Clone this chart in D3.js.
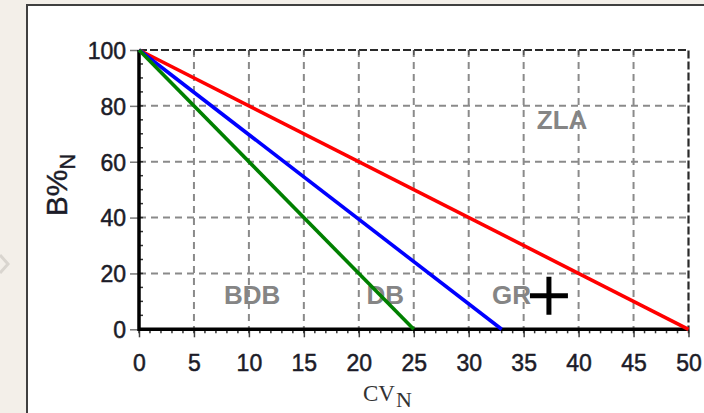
<!DOCTYPE html>
<html>
<head>
<meta charset="utf-8">
<script src="https://cdn.jsdelivr.net/npm/d3@7"></script>
<style>
  body { margin: 0; background: #f3efe9; }
  svg { display: block; }
</style>
</head>
<body>
<div id="chart"></div>
<script>
// boundary lines: each runs from B%N = 100 at CV = 0 down to B%N = 0
var lineNames = ["GR/ZLA", "DB/GR", "BDB/DB"];
var lineColors = ["#ff0000", "#0000ff", "#008000"];
var lineEnds = [50, 33, 25];

// zone labels
var zoneNames = ["ZLA", "BDB", "DB", "GR"];
var zoneX = [38.5, 10.3, 22.4, 33.9];
var zoneY = [75, 12.3, 12.3, 12.3];

// the sample point (+)
var sample = [37.3, 12];

var xTicks = [0, 5, 10, 15, 20, 25, 30, 35, 40, 45, 50];
var yTicks = [0, 20, 40, 60, 80, 100];

var W = 704, H = 413;

var svg = d3.select("#chart").append("svg")
  .attr("width", W)
  .attr("height", H);

// white panel
svg.append("rect")
  .attr("x", 27).attr("y", 5)
  .attr("width", W).attr("height", H)
  .attr("fill", "#fff")
  .attr("stroke", "#404040")
  .attr("stroke-width", 2);

// small faint arrow on the left
svg.append("polyline")
  .attr("points", "0,255 8,264 0,273")
  .attr("fill", "none")
  .attr("stroke", "#d9d5cf")
  .attr("stroke-width", 3);

var x = d3.scaleLinear().domain([0, 50]).range([139, 688.5]);
var y = d3.scaleLinear().domain([0, 100]).range([329.3, 50]);

// grid
var grid = svg.append("g")
  .attr("stroke", "#8a8a8a")
  .attr("stroke-width", 2)
  .attr("stroke-dasharray", "7,5");

grid.selectAll(".vg")
  .data(xTicks.filter(function(d){ return d > 0 && d < 50; }))
  .enter().append("line")
    .attr("x1", function(d){ return x(d); })
    .attr("x2", function(d){ return x(d); })
    .attr("y1", y(100)).attr("y2", y(0));

grid.selectAll(".hg")
  .data(yTicks.filter(function(d){ return d > 0 && d < 100; }))
  .enter().append("line")
    .attr("x1", x(0)).attr("x2", x(50))
    .attr("y1", function(d){ return y(d); })
    .attr("y2", function(d){ return y(d); });

// top and right frame (dashed, darker)
svg.append("path")
  .attr("d", "M" + x(0) + "," + y(100) + "H" + x(50) + "V" + y(0))
  .attr("fill", "none")
  .attr("stroke", "#2a2a2a")
  .attr("stroke-width", 2.2)
  .attr("stroke-dasharray", "8,3");

// little ticks hanging from top frame
svg.append("g").selectAll("line")
  .data(xTicks.filter(function(d){ return d > 0 && d < 50; }))
  .enter().append("line")
    .attr("x1", function(d){ return x(d); })
    .attr("x2", function(d){ return x(d); })
    .attr("y1", y(100)).attr("y2", y(100) + 5)
    .attr("stroke", "#555")
    .attr("stroke-width", 1.5);

// axes
var font = "'Liberation Sans', Arial, sans-serif";
var ink = "#1c1c28";

var yAxis = d3.axisLeft(y).tickValues(yTicks).tickSize(9).tickPadding(4);
var yg = svg.append("g")
  .attr("transform", "translate(" + x(0) + ",0)")
  .call(yAxis);
yg.select(".domain").remove();
yg.selectAll(".tick line").attr("stroke", "#777").attr("stroke-width", 1.5);
yg.selectAll("text")
  .attr("font-family", font)
  .attr("font-size", 23)
  .attr("fill", ink)
  .attr("stroke", ink)
  .attr("stroke-width", 0.5)
  .attr("dy", "0.36em");

// minor y ticks inside the axis
svg.append("g").selectAll("line")
  .data(d3.range(0, 101, 5))
  .enter().append("line")
    .attr("x1", x(0)).attr("x2", x(0) + 4)
    .attr("y1", function(d){ return y(d); })
    .attr("y2", function(d){ return y(d); })
    .attr("stroke", "#333")
    .attr("stroke-width", 1.5);

var xAxis = d3.axisBottom(x).tickValues(xTicks).tickSize(8).tickPadding(17);
var xg = svg.append("g")
  .attr("transform", "translate(0," + y(0) + ")")
  .call(xAxis);
xg.select(".domain").remove();
xg.selectAll(".tick line").attr("stroke", "#444").attr("stroke-width", 1.5);
xg.selectAll("text")
  .attr("font-family", font)
  .attr("font-size", 23)
  .attr("fill", ink)
  .attr("stroke", ink)
  .attr("stroke-width", 0.5);

// minor x ticks
svg.append("g").selectAll("line")
  .data(d3.range(0, 51, 1))
  .enter().append("line")
    .attr("x1", function(d){ return x(d); })
    .attr("x2", function(d){ return x(d); })
    .attr("y1", y(0)).attr("y2", y(0) + 4)
    .attr("stroke", "#333")
    .attr("stroke-width", 1.5);

// thick black axis lines
svg.append("path")
  .attr("d", "M" + x(0) + "," + y(100) + "V" + y(0) + "H" + x(50))
  .attr("fill", "none")
  .attr("stroke", "#000")
  .attr("stroke-width", 3.5);

// zone labels
svg.append("g").selectAll("text")
  .data(zoneNames)
  .enter().append("text")
    .attr("x", function(d, i){ return x(zoneX[i]); })
    .attr("y", function(d, i){ return y(zoneY[i]); })
    .attr("dy", "0.36em")
    .attr("text-anchor", "middle")
    .attr("font-family", font)
    .attr("font-weight", "bold")
    .attr("font-size", 26)
    .attr("fill", "#858585")
    .text(function(d){ return d; });

// boundary lines
var line = d3.line()
  .x(function(d){ return x(d[0]); })
  .y(function(d){ return y(d[1]); });

svg.append("g").selectAll("path")
  .data(lineEnds)
  .enter().append("path")
    .attr("d", function(d){ return line([[0, 100], [d, 0]]); })
    .attr("fill", "none")
    .attr("stroke", function(d, i){ return lineColors[i]; })
    .attr("stroke-width", 3.6);

// sample marker
var cx = x(sample[0]), cy = y(sample[1]), r = 19;
svg.append("path")
  .attr("d", "M" + (cx - r) + "," + cy + "H" + (cx + r) + "M" + cx + "," + (cy - r) + "V" + (cy + r))
  .attr("stroke", "#000")
  .attr("stroke-width", 5);

// y axis title  B%N
var yt = svg.append("text")
  .attr("transform", "translate(67,185) rotate(-90)")
  .attr("text-anchor", "middle")
  .attr("font-family", font)
  .attr("font-size", 30)
  .attr("fill", ink)
  .attr("stroke", ink)
  .attr("stroke-width", 0.4);
yt.append("tspan").text("B%");
yt.append("tspan").attr("font-size", 22).attr("dy", 8).text("N");

// x axis title  CV with subscript N
var serif = "'Liberation Serif', 'Times New Roman', serif";
svg.append("text")
  .attr("x", 363)
  .attr("y", 401)
  .attr("font-family", serif)
  .attr("font-size", 23)
  .attr("fill", "#333")
  .text("CV");
svg.append("text")
  .attr("x", 396)
  .attr("y", 407)
  .attr("font-family", serif)
  .attr("font-size", 22)
  .attr("fill", "#333")
  .text("N");
</script>
</body>
</html>
